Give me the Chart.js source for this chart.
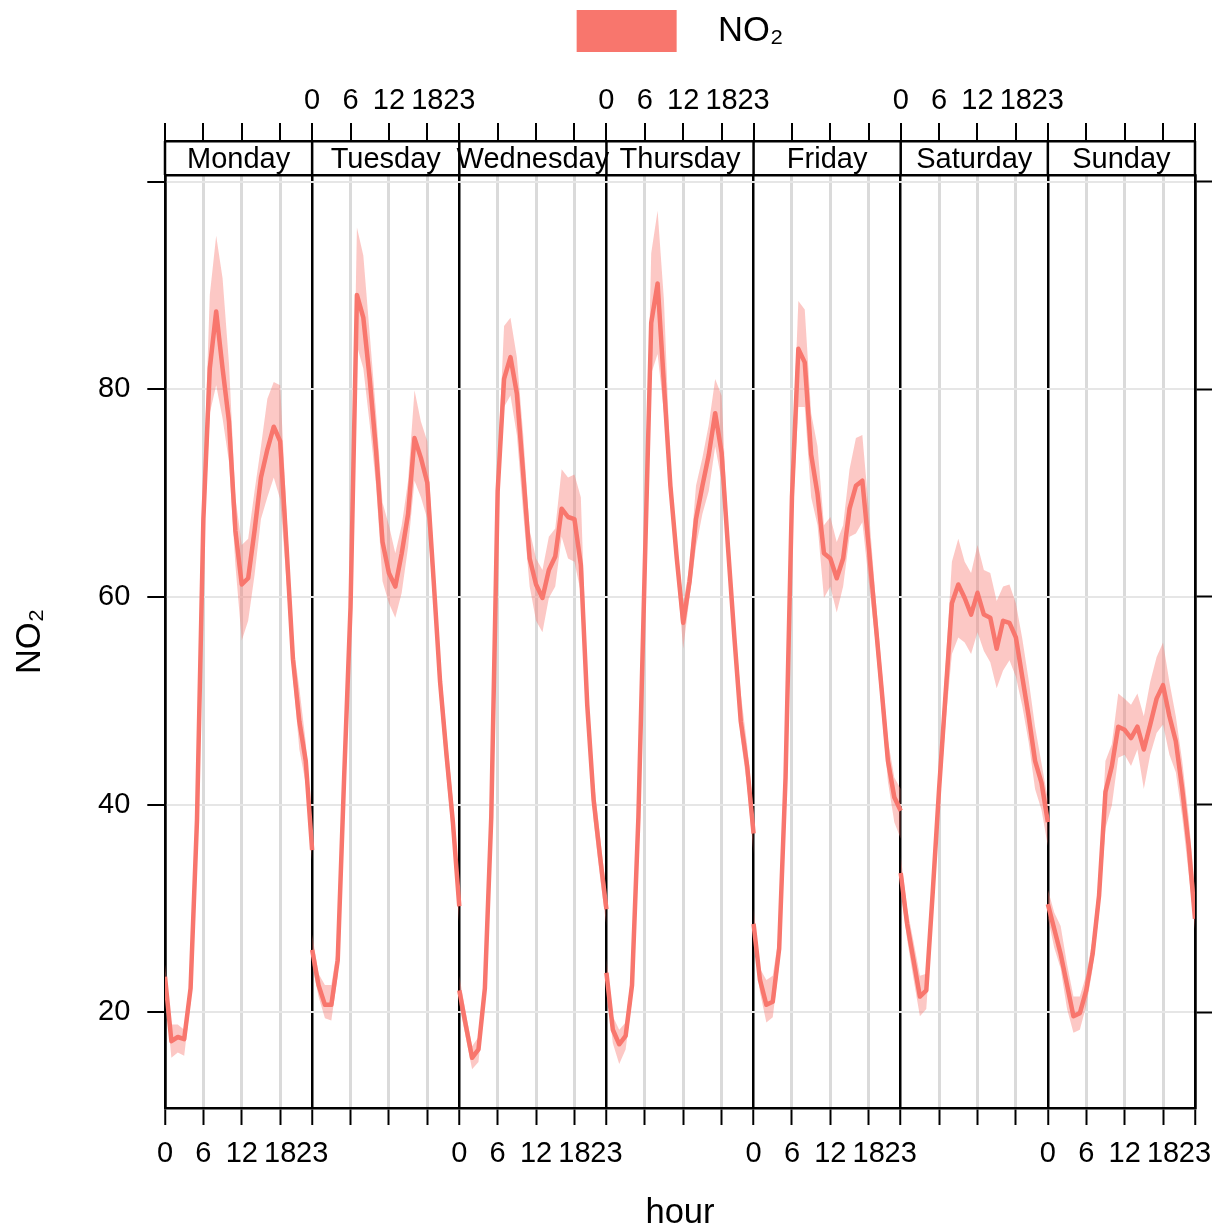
<!DOCTYPE html>
<html>
<head>
<meta charset="utf-8">
<script src="https://cdn.jsdelivr.net/npm/chart.js@4.4.1/dist/chart.umd.min.js"></script>
<style>
html, body { margin: 0; padding: 0; background: #ffffff; }
#wrap { width: 1217px; height: 1231px; position: relative; }
</style>
</head>
<body>
<div id="wrap"><canvas id="c"></canvas></div>
<script>
// ---------- data ----------
const days = ['Monday', 'Tuesday', 'Wednesday', 'Thursday', 'Friday', 'Saturday', 'Sunday'];
const hours = [0,1,2,3,4,5,6,7,8,9,10,11,12,13,14,15,16,17,18,19,20,21,22,23];
const hourTicks = [0, 6, 12, 18, 23];
const yTicks = [20, 40, 60, 80, 100];
const yTickLabels = ['20', '40', '60', '80', ''];
const bottomLabelDays = [0, 2, 4, 6];
const topLabelDays = [1, 3, 5];
const seriesName = 'NO\u2082';

const no2Mean = [
  [23.4,17.2,17.6,17.4,22.3,38.5,67.5,82.0,87.5,82.0,76.9,66.4,61.2,61.8,66.4,71.5,74.2,76.4,75.0,64.8,54.0,48.0,44.2,35.6],
  [26.0,22.6,20.7,20.7,25.0,42.6,59.0,89.1,86.9,81.0,74.0,65.3,62.3,61.0,64.2,68.0,75.3,73.4,71.0,61.5,51.8,44.8,38.3,30.2],
  [22.1,18.8,15.6,16.4,22.3,38.8,70.2,81.0,83.1,79.6,71.8,63.7,61.2,59.9,62.6,63.9,68.5,67.7,67.5,63.1,49.6,40.4,35.0,29.9],
  [23.8,18.3,16.9,17.7,22.6,38.8,63.0,86.4,90.2,80.4,70.7,63.7,57.5,61.5,67.5,70.7,73.7,77.7,73.9,64.8,56.1,48.0,43.7,37.2],
  [28.5,23.1,20.7,21.0,26.1,42.6,69.6,83.9,82.6,73.7,69.9,64.2,63.7,61.8,63.7,68.5,70.7,71.2,64.8,58.0,51.2,44.2,40.7,39.4],
  [33.4,28.5,25.0,21.5,22.1,31.5,41.5,50.5,59.4,61.2,59.9,58.3,60.4,58.3,58.0,55.0,57.7,57.5,56.1,52.3,48.5,44.2,42.1,38.3],
  [30.4,28.0,25.6,22.6,19.6,19.9,22.1,25.6,31.2,41.2,43.7,47.5,47.2,46.4,47.5,45.3,47.7,50.2,51.5,48.5,46.1,41.5,36.1,29.0]
];
const no2Upper = [
  [24.6,18.8,18.8,18.3,23.5,40.0,70.5,89.1,94.8,90.7,82.5,69.6,65.0,65.6,70.2,74.5,79.1,80.7,80.4,68.0,55.6,51.2,46.0,37.7],
  [27.5,23.7,22.6,22.6,26.5,44.5,62.0,95.6,92.9,85.3,77.7,69.1,66.9,64.2,66.9,71.2,79.9,76.9,75.0,63.5,53.8,46.8,40.3,32.0],
  [23.5,20.0,16.7,17.6,23.5,41.0,72.5,86.1,86.9,83.1,75.6,66.4,63.7,62.6,65.8,66.6,72.3,71.5,71.8,69.6,51.6,42.4,37.0,31.5],
  [25.2,19.6,18.3,19.0,24.0,40.8,66.0,93.1,97.2,88.5,72.5,65.2,59.4,63.0,70.7,73.4,76.6,81.0,79.4,66.3,57.6,50.7,45.7,39.2],
  [30.0,24.2,23.1,23.5,27.6,44.6,72.6,88.5,87.7,77.7,74.5,66.9,67.7,65.3,66.9,72.3,75.3,75.6,68.5,60.5,53.2,46.2,42.6,41.5],
  [35.0,30.0,26.8,23.5,23.7,33.3,43.5,53.2,63.4,65.6,63.4,62.3,65.0,62.6,62.3,59.6,61.0,61.2,59.4,56.0,52.0,47.5,44.0,40.5],
  [31.8,29.6,28.3,24.6,21.5,21.5,23.6,27.0,32.9,44.2,45.8,50.7,50.2,49.6,50.7,48.5,51.8,54.2,55.6,51.8,48.5,44.2,38.8,31.8]
];
const no2Lower = [
  [22.0,15.6,16.1,15.8,21.0,37.0,64.5,77.7,80.4,77.2,73.0,63.1,55.8,57.7,62.1,67.5,69.6,71.5,69.4,61.5,52.3,45.3,42.0,34.5],
  [24.5,21.5,19.4,19.2,23.5,40.7,56.0,84.2,82.0,76.6,70.7,61.5,59.4,58.0,60.4,64.8,71.2,69.6,67.5,59.5,49.8,42.8,36.3,28.4],
  [20.7,17.6,14.5,15.2,21.1,36.6,67.9,78.3,79.4,75.6,68.0,61.0,57.7,56.6,59.9,61.0,65.8,63.7,63.4,60.4,47.6,38.4,33.0,28.3],
  [22.4,17.0,15.0,16.4,21.2,36.8,60.0,81.5,83.4,77.7,69.1,62.2,55.0,60.0,64.8,68.0,70.2,74.5,71.2,63.3,54.6,46.4,41.7,35.2],
  [27.0,21.9,19.0,19.5,24.6,40.6,66.6,78.3,78.3,69.6,66.9,59.9,61.0,58.5,61.0,65.8,66.1,67.2,61.5,56.0,49.2,42.2,38.3,36.7],
  [31.8,27.0,23.2,19.6,20.3,29.7,39.5,47.8,54.5,56.1,55.6,54.5,56.6,54.8,53.7,51.2,52.9,53.9,52.3,49.5,46.0,41.5,39.5,36.0],
  [29.1,26.2,24.2,20.3,18.0,18.3,20.6,24.2,29.6,37.7,39.9,44.5,44.8,43.7,45.3,41.5,44.8,46.9,47.7,44.8,43.1,38.8,33.4,28.0]
];

// ---------- styling ----------
const lineColor = '#F8766D';
const bandColor = 'rgba(248,118,109,0.4)';
const FONT = 29;
const TITLE_FONT = 34.56;
Chart.defaults.font.family = '"Liberation Sans", Arial, Helvetica, sans-serif';
Chart.defaults.font.size = FONT;
Chart.defaults.color = '#000000';

const span = hours.length - 1;           // 23 hours per panel
const xMax = span * days.length;         // 161
const yMin = 10.76, yMax = 100.65;

const tickPositions = [];
days.forEach((d, i) => hourTicks.slice(0, 4).forEach(h => tickPositions.push(i * span + h)));
tickPositions.push(xMax);

function tickLabel(v, labelled) {
  const d = Math.floor(v / span + 1e-9);
  const h = Math.round(v - d * span);
  if (h === 0) {
    if (d < days.length && labelled.includes(d)) return '0';
    if (d > 0 && labelled.includes(d - 1)) return String(span);
    return '';
  }
  return labelled.includes(d) ? String(h) : '';
}
function isBoundary(c) {
  return c && c.tick && Math.abs(c.tick.value / span - Math.round(c.tick.value / span)) < 1e-6;
}
const setXTicks = s => { s.ticks = tickPositions.map(v => ({ value: v })); };
const setYTicks = s => { s.ticks = yTicks.map(v => ({ value: v })); };
const fitX = h => s => { s.height = h; s.paddingLeft = 0; s.paddingRight = 0; };
const fitY = w => s => { s.width = w; s.paddingTop = 0; s.paddingBottom = 0; };

// ---------- datasets ----------
const datasets = [];
days.forEach((name, d) => {
  const pts = arr => hours.map((h, i) => ({ x: d * span + h, y: arr[d][i] }));
  datasets.push({ label: name + ' lower', data: pts(no2Lower), borderWidth: 0, pointRadius: 0, fill: false, order: 2, borderColor: 'rgba(0,0,0,0)' });
  datasets.push({ label: name + ' upper', data: pts(no2Upper), borderWidth: 0, pointRadius: 0, fill: '-1', backgroundColor: bandColor, order: 1, borderColor: 'rgba(0,0,0,0)' });
  datasets.push({ label: seriesName, data: pts(no2Mean), borderColor: lineColor, borderWidth: 4.5, pointRadius: 0, fill: false, order: 0, tension: 0, borderJoinStyle: 'round', borderCapStyle: 'butt' });
});

// ---------- strip plugin ----------
const stripPlugin = {
  id: 'strips',
  afterDraw(chart) {
    const xs = chart.scales.xStrip;
    const ctx = chart.ctx;
    ctx.save();
    ctx.font = FONT + 'px "Liberation Sans", Arial, Helvetica, sans-serif';
    ctx.fillStyle = '#000';
    ctx.textAlign = 'center';
    ctx.textBaseline = 'middle';
    days.forEach((name, d) => {
      const x0 = xs.getPixelForValue(d * span), x1 = xs.getPixelForValue((d + 1) * span);
      ctx.fillText(name, (x0 + x1) / 2, (xs.top + xs.bottom) / 2 + 2);
    });
    ctx.strokeStyle = '#000';
    ctx.lineWidth = 2.5;
    for (let d = 0; d <= days.length; d++) {
      const x = xs.getPixelForValue(d * span);
      ctx.beginPath();
      ctx.moveTo(x, xs.top);
      ctx.lineTo(x, xs.bottom);
      ctx.stroke();
    }
    ctx.restore();
  }
};

new Chart(document.getElementById('c'), {
  type: 'line',
  data: { datasets },
  plugins: [stripPlugin],
  options: {
    responsive: true,
    maintainAspectRatio: false,
    devicePixelRatio: 1,
    animation: false,
    layout: { padding: 0 },
    plugins: {
      tooltip: { enabled: false },
      legend: {
        display: true,
        position: 'top',
        fullSize: false,
        align: 'center',
        onClick: () => {},
        labels: {
          boxWidth: 100,
          boxHeight: 42,
          padding: 10,
          color: '#000',
          font: { size: TITLE_FONT },
          generateLabels: () => [{
            text: '\u2002\u2009' + seriesName,
            fillStyle: lineColor,
            strokeStyle: lineColor,
            lineWidth: 0,
            hidden: false,
            datasetIndex: 2
          }]
        }
      }
    },
    scales: {
      x: {
        type: 'linear', position: 'bottom', min: 0, max: xMax,
        afterBuildTicks: setXTicks,
        afterFit: fitX(123),
        ticks: { autoSkip: false, maxRotation: 0, minRotation: 0, padding: 12, color: '#000', font: { size: FONT },
                 callback: v => tickLabel(v, bottomLabelDays) },
        grid: { color: c => isBoundary(c) ? '#000000' : '#DADADA',
                lineWidth: c => isBoundary(c) ? 2.5 : 3,
                drawTicks: true, tickLength: 17, tickColor: '#000', tickWidth: 2 },
        border: { display: true, color: '#000', width: 2.5 },
        title: { display: true, text: 'hour', color: '#000', font: { size: TITLE_FONT }, padding: { top: 0, bottom: -3 } }
      },
      xTop: {
        type: 'linear', position: 'top', min: 0, max: xMax, weight: 1,
        afterBuildTicks: setXTicks,
        afterFit: fitX(79),
        ticks: { autoSkip: false, maxRotation: 0, minRotation: 0, padding: 5, color: '#000', font: { size: FONT },
                 callback: v => tickLabel(v, topLabelDays) },
        grid: { drawOnChartArea: false, drawTicks: true, tickLength: 18, tickColor: '#000', tickWidth: 2, color: '#000', lineWidth: 2 },
        border: { display: true, color: '#000', width: 2.5 }
      },
      xStrip: {
        type: 'linear', position: 'top', min: 0, max: xMax, weight: 0,
        afterFit: fitX(34),
        ticks: { display: false },
        grid: { display: false },
        border: { display: true, color: '#000', width: 2.5 }
      },
      y: {
        type: 'linear', position: 'left', min: yMin, max: yMax,
        afterBuildTicks: setYTicks,
        afterFit: fitY(165),
        ticks: { padding: 17, color: '#000', font: { size: FONT },
                 callback: v => yTickLabels[yTicks.indexOf(v)] },
        grid: { color: '#E6E6E6', lineWidth: 2, drawTicks: true, tickLength: 17.7, tickColor: '#000', tickWidth: 2 },
        border: { display: true, color: '#000', width: 2.5 },
        title: { display: true, text: seriesName, color: '#000', font: { size: TITLE_FONT }, padding: { top: 10, bottom: 0 } }
      },
      yRight: {
        type: 'linear', position: 'right', min: yMin, max: yMax,
        afterBuildTicks: setYTicks,
        afterFit: fitY(22),
        ticks: { padding: 0, callback: () => '' },
        grid: { drawOnChartArea: false, drawTicks: true, tickLength: 17, tickColor: '#000', tickWidth: 2 },
        border: { display: true, color: '#000', width: 2.5 }
      }
    }
  }
});
</script>
</body>
</html>
